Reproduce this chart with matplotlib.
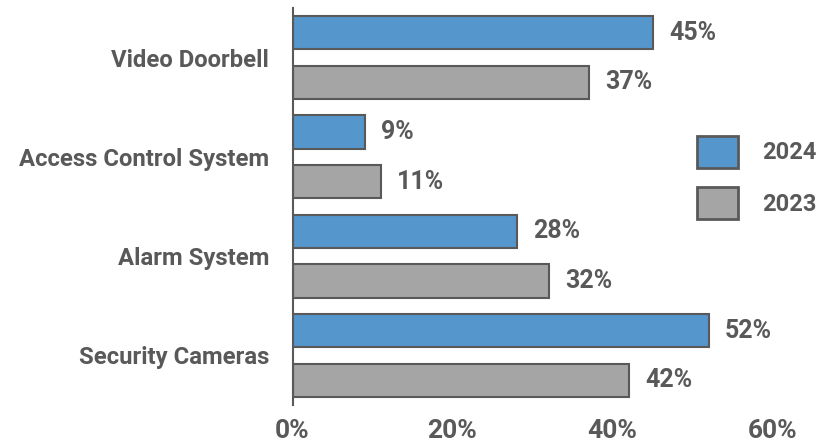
import numpy as np
import matplotlib
matplotlib.use("Agg")
import matplotlib.pyplot as plt

# data, listed top to bottom as in the chart
categories = ["Video Doorbell", "Access Control System", "Alarm System", "Security Cameras"]
years = ["2024", "2023"]
values_2024 = [45, 9, 28, 52]
values_2023 = [37, 11, 32, 42]
xticks = [0, 20, 40, 60]

BLUE = "#5596CD"
GREY = "#A5A5A5"
EDGE = "#595959"
TEXT = "#595959"
W = "bold"

plt.rcParams["font.family"] = ["Roboto", "DejaVu Sans"]
plt.rcParams["font.weight"] = W

fig = plt.figure(figsize=(8.31, 4.47), dpi=100)
ax = fig.add_axes([292.5 / 831, 42 / 447, 480 / 831, 397 / 447])

# bottom category sits at y=0
y = np.arange(len(categories))[::-1]
h = 0.335
b1 = ax.barh(y + 0.25, values_2024, height=h, color=BLUE, edgecolor=EDGE,
             linewidth=1.5, label=years[0])
b2 = ax.barh(y - 0.25, values_2023, height=h, color=GREY, edgecolor=EDGE,
             linewidth=1.5, label=years[1])

for bars in (b1, b2):
    ax.bar_label(bars, labels=[f"{v}%" for v in bars.datavalues], padding=12,
                 fontsize=18, fontweight=W, color=TEXT)

ax.set_xlim(0, 60)
ax.set_ylim(-0.5, len(categories) - 0.5)
ax.set_xticks(xticks)
ax.set_xticklabels([f"{t}%" for t in xticks])
ax.set_yticks(y)
ax.set_yticklabels(categories)
ax.tick_params(axis="x", length=0, pad=10, labelsize=19, labelcolor=TEXT)
ax.tick_params(axis="y", length=0, pad=17, labelsize=17.2, labelcolor=TEXT)
for lab in ax.get_xticklabels() + ax.get_yticklabels():
    lab.set_fontweight(W)

for side in ("top", "right", "bottom"):
    ax.spines[side].set_visible(False)
ax.spines["left"].set_color(EDGE)
ax.spines["left"].set_linewidth(1.5)

leg = ax.legend(loc="center left", bbox_to_anchor=(697 / 831, 1 - 177.5 / 447),
                bbox_transform=fig.transFigure, frameon=False, borderpad=0,
                borderaxespad=0, handlelength=1.74, handleheight=1.74,
                labelspacing=0.8, handletextpad=1.0,
                prop={"size": 17, "weight": W})
for t in leg.get_texts():
    t.set_color(TEXT)
for p in leg.get_patches():
    p.set_linewidth(2)

fig.savefig("out.png", dpi=100)
